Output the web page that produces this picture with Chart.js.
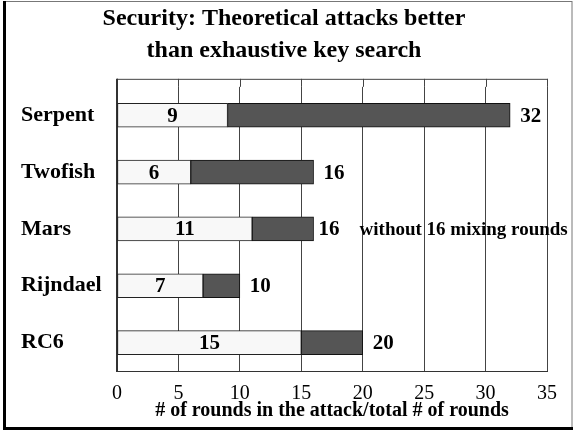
<!DOCTYPE html>
<html>
<head>
<meta charset="utf-8">
<script src="https://cdn.jsdelivr.net/npm/chart.js@4/dist/chart.umd.min.js"></script>
<style>
  html, body { margin: 0; padding: 0; background: #fff; }
  #wrap { width: 573px; height: 430px; position: relative; }
</style>
</head>
<body>
<div id="wrap"><canvas id="c" width="573" height="430"></canvas></div>
<script>
const categories = ['Serpent', 'Twofish', 'Mars', 'Rijndael', 'RC6'];
const attackRounds = [9, 6, 11, 7, 15];
const totalRounds = [32, 16, 16, 10, 20];
const notes = ['', '', 'without 16 mixing rounds', '', ''];
const xTicks = [0, 5, 10, 15, 20, 25, 30, 35];
const titleLines = ['Security: Theoretical attacks better', 'than exhaustive key search'];
const xTitle = '# of rounds in the attack/total # of rounds';

const remaining = totalRounds.map((t, i) => t - attackRounds[i]);
const SERIF = "'Liberation Serif', 'Times New Roman', serif";

const framePlugin = {
  id: 'frame',
  beforeDraw(chart) {
    const ctx = chart.ctx;
    ctx.save();
    ctx.fillStyle = '#fff';
    ctx.fillRect(0, 0, chart.width, chart.height);
    ctx.restore();
  },
  afterDraw(chart) {
    const ctx = chart.ctx;
    ctx.save();
    ctx.strokeStyle = '#777';
    ctx.lineWidth = 1;
    ctx.strokeRect(4.5, 1.5, 567.5, 426);
    ctx.fillStyle = '#000';
    ctx.fillRect(3, 1, 3, 429);
    ctx.fillRect(3, 427, 570, 3);
    ctx.restore();
  }
};

const topExtend = 8;
const gridExtPlugin = {
  id: 'gridExt',
  beforeDatasetsDraw(chart) {
    const ctx = chart.ctx;
    const xs = chart.scales.x;
    const area = chart.chartArea;
    const top = area.top - topExtend;
    ctx.save();
    ctx.strokeStyle = '#444';
    ctx.lineWidth = 1;
    ctx.beginPath();
    xTicks.forEach(v => {
      const px = Math.round(xs.getPixelForValue(v)) + 0.5;
      ctx.moveTo(px, top);
      ctx.lineTo(px, area.top);
    });
    ctx.moveTo(area.left, top + 0.5);
    ctx.lineTo(area.right + 1, top + 0.5);
    ctx.stroke();
    ctx.strokeStyle = '#333';
    ctx.lineWidth = 2;
    ctx.beginPath();
    ctx.moveTo(area.left, top);
    ctx.lineTo(area.left, area.top);
    ctx.stroke();
    ctx.restore();
  }
};

const labelPlugin = {
  id: 'barLabels',
  afterDatasetsDraw(chart) {
    const ctx = chart.ctx;
    const m0 = chart.getDatasetMeta(0);
    const m1 = chart.getDatasetMeta(1);
    ctx.save();
    ctx.fillStyle = '#000';
    ctx.textBaseline = 'middle';
    ctx.font = 'bold 21px ' + SERIF;
    categories.forEach((c, i) => {
      const b0 = m0.data[i];
      const b1 = m1.data[i];
      ctx.textAlign = 'center';
      ctx.fillText(String(attackRounds[i]), (b0.base + b0.x) / 2, b0.y + 1);
      ctx.textAlign = 'left';
      ctx.font = 'bold 21px ' + SERIF;
      const gap = notes[i] ? 5 : 10;
      const tx = b1.x + gap;
      const t = String(totalRounds[i]);
      ctx.fillText(t, tx, b1.y + 1);
      if (notes[i]) {
        const w = ctx.measureText(t).width;
        ctx.font = 'bold 19px ' + SERIF;
        ctx.fillText(notes[i], tx + w + 20, b1.y + 1);
        ctx.font = 'bold 21px ' + SERIF;
      }
    });
    ctx.restore();
  }
};

new Chart(document.getElementById('c'), {
  type: 'bar',
  data: {
    labels: categories,
    datasets: [
      {
        label: 'attack',
        data: attackRounds,
        backgroundColor: '#f8f8f8',
        borderColor: '#222',
        borderWidth: 1,
        borderSkipped: false,
        barThickness: 24
      },
      {
        label: 'rest',
        data: remaining,
        backgroundColor: '#555555',
        borderColor: '#111',
        borderWidth: 1,
        borderSkipped: false,
        barThickness: 24
      }
    ]
  },
  options: {
    indexAxis: 'y',
    responsive: false,
    animation: false,
    events: [],
    layout: { padding: { left: 21, right: 26, top: 0, bottom: 10 } },
    plugins: {
      legend: { display: false },
      tooltip: { enabled: false },
      title: {
        display: true,
        text: titleLines,
        color: '#000',
        font: { family: SERIF, size: 24, weight: 'bold', lineHeight: 1.33 },
        padding: { top: 3, bottom: 20 }
      }
    },
    scales: {
      x: {
        stacked: true,
        min: 0,
        max: 35,
        afterFit(scale) { scale.height = 49; },
        ticks: {
          stepSize: 5,
          color: '#000',
          padding: 14,
          font: { family: SERIF, size: 20, lineHeight: 0.9 }
        },
        grid: { color: '#444', lineWidth: 1, drawTicks: false },
        border: { color: '#333', width: 1 },
        title: {
          display: true,
          text: xTitle,
          color: '#000',
          font: { family: SERIF, size: 20, weight: 'bold', lineHeight: 0.95 },
          padding: { top: 0, bottom: 0 }
        }
      },
      y: {
        stacked: true,
        afterFit(scale) { scale.width = 96; },
        ticks: {
          crossAlign: 'far',
          color: '#000',
          font: { family: SERIF, size: 22, weight: 'bold' }
        },
        grid: { display: false },
        border: { color: '#333', width: 2 }
      }
    }
  },
  plugins: [framePlugin, gridExtPlugin, labelPlugin]
});
</script>
</body>
</html>
